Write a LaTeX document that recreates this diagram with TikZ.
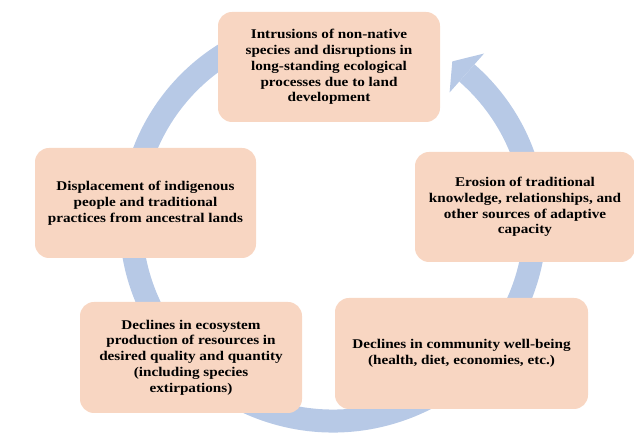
\documentclass[tikz,border=0pt]{standalone}
\usepackage{fontspec}
\setmainfont{Liberation Serif}[FakeStretch=1.14]
\definecolor{ringblue}{RGB}{183,201,230}
\definecolor{peach}{RGB}{248,214,194}
\begin{document}
\begin{tikzpicture}[x=0.75pt,y=0.75pt,
  box/.style={fill=peach, rounded corners=10.5pt, minimum width=166.5pt, minimum height=82.5pt,
    align=center, inner sep=0pt, font=\fontsize{10}{11.85}\selectfont\bfseries, text=black},
  ring/.style={draw=ringblue, line width=17.25pt}]
\useasboundingbox (0,0) rectangle (634,438);
\coordinate (C) at (333,216);
% cycle ring with arrowhead
\draw[ring] ([shift={(110:202 and 199)}]C) arc[start angle=110, end angle=408.5, x radius=202, y radius=199];
\fill[ringblue] ([shift={(48.5:228 and 225)}]C) -- ([shift={(53.8:202 and 199)}]C) -- ([shift={(48.5:176 and 173)}]C) -- cycle;
% boxes
\node[box] (top) at (329,371) {Intrusions of non-native\\species and disruptions in\\long-standing ecological\\processes due to land\\development};
\node[box, minimum width=165pt] (right) at (525,231) {Erosion of traditional\\knowledge, relationships, and\\other sources of adaptive\\capacity};
\node[box, minimum width=165.75pt] (left) at (145.5,235) {Displacement of indigenous\\people and traditional\\practices from ancestral lands};
\node[box, minimum height=83.25pt] (bl) at (191,80.5) {Declines in ecosystem\\production of resources in\\desired quality and quantity\\(including species\\extirpations)};
\node[box, minimum width=189.75pt, minimum height=83.25pt] (br) at (461.5,84.5) {Declines in community well-being\\(health, diet, economies, etc.)};
\end{tikzpicture}
\end{document}
